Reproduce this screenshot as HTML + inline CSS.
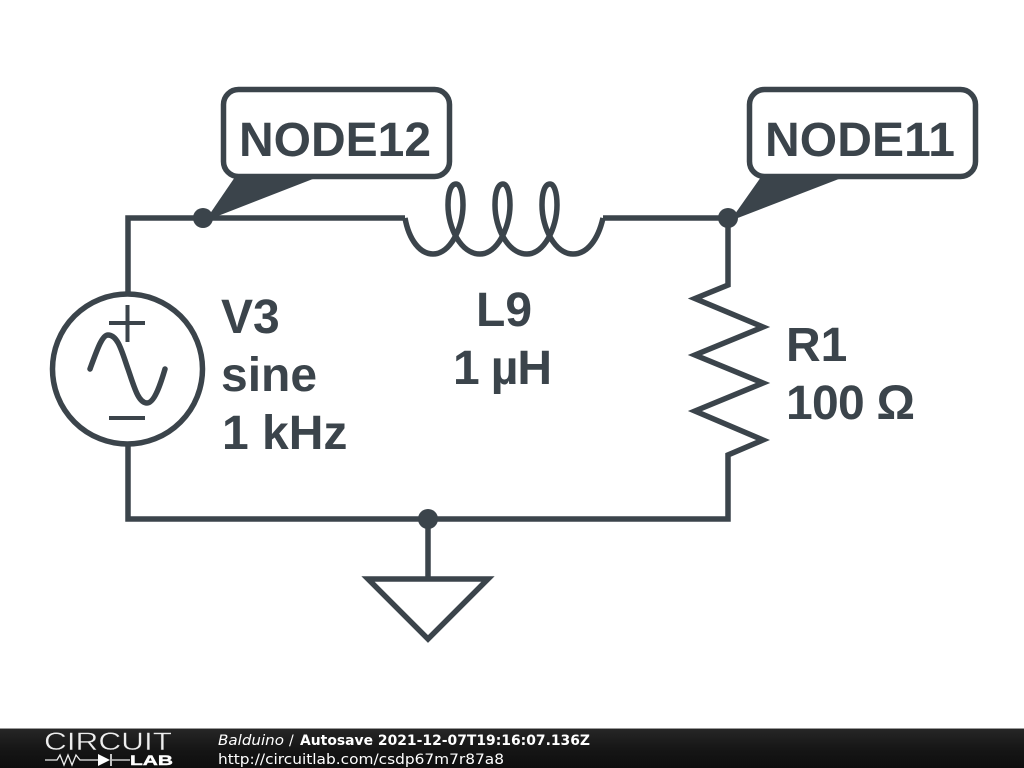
<!DOCTYPE html>
<html><head><meta charset="utf-8"><style>
html,body{margin:0;padding:0;background:#fff;width:1024px;height:768px;overflow:hidden}
svg{display:block}
</style></head><body>
<svg width="1024" height="768" viewBox="0 0 1024 768" xmlns="http://www.w3.org/2000/svg">
<defs><linearGradient id="g" x1="0" y1="0" x2="0" y2="1"><stop offset="0" stop-color="#262626"/><stop offset="0.5" stop-color="#161616"/><stop offset="1" stop-color="#0e0e0e"/></linearGradient></defs>
<rect width="1024" height="768" fill="#fff"/>
<g fill="none" stroke="#3b444b" stroke-width="5.500" stroke-linejoin="miter">
<path d="M128,293V218H405"/>
<path d="M405,218C409,240 420,254 433,254C450,254 463,228 463,205C463,192 460,184 456,184C451,184 448,192 448,205C448,228 461,254 480,254C497,254 510,228 510,205C510,192 507,184 503,184C498,184 495,192 495,205C495,228 508,254 527,254C544,254 557,228 557,205C557,192 554,184 550,184C545,184 542,192 542,205C542,228 555,254 573,254C587,254 598,240 603,218"/>
<path d="M603,218H728V285L695,298.500L763,327L695,355L763,383L695,411L763,440L728,455V519H128V445"/>
<path d="M428,519V579"/>
<path d="M368,579H488L428,639Z"/>
<circle cx="127.500" cy="369" r="75"/>
<g stroke-width="4"><path d="M109,323H145M127.500,305V342M109,418H145"/></g>
<path d="M90,369C97,350 102,335 108,335C118,335 122,352 128,369C134,386 138,403 147,403C154,403 160,386 165,369" stroke-linecap="round"/>
<rect x="223.500" y="89.500" width="226" height="87" rx="15" ry="15"/>
<rect x="749.500" y="89.500" width="226" height="87" rx="15" ry="15"/>
</g>
<g fill="#3b444b">
<polygon points="235,177 318,177 205,221"/>
<polygon points="761,177 844,177 730,221"/>
<circle cx="203" cy="218" r="10"/>
<circle cx="728" cy="218" r="10"/>
<circle cx="428" cy="519" r="10"/>
</g>
<g font-family="'Liberation Sans',sans-serif" font-weight="bold" font-size="48" fill="#3b444b">
<text x="239" y="156">NODE12</text>
<text x="765" y="156" textLength="190">NODE11</text>
<text x="221" y="333">V3</text>
<text x="221" y="391">sine</text>
<text x="222" y="449">1 kHz</text>
<text x="476" y="326">L9</text>
<text x="453" y="384" textLength="99">1 µH</text>
<text x="786" y="361">R1</text>
<text x="786" y="419" textLength="129">100 Ω</text>
</g>
<rect x="0" y="729" width="1024" height="39" fill="url(#g)"/>
<rect x="0" y="728" width="1024" height="1" fill="#999"/>
<text x="44" y="750" font-family="'Liberation Sans',sans-serif" font-size="25" fill="#eee" textLength="128" lengthAdjust="spacingAndGlyphs" stroke="#1a1a1a" stroke-width="0.4">CIRCUIT</text>
<path d="M45,760H57L60,755L64,765L68,755L72,765L76,755L80,760H98M112,760H130" fill="none" stroke="#eee" stroke-width="1.300"/>
<path d="M98,754V766L110,760Z" fill="#fff"/><path d="M111,754V766" stroke="#fff" stroke-width="1.500"/>
<text x="130" y="765" font-family="'Liberation Sans',sans-serif" font-weight="bold" font-size="14" fill="#fff" stroke="#fff" stroke-width="0.4" textLength="43" lengthAdjust="spacingAndGlyphs">LAB</text>
<g font-family="'DejaVu Sans',sans-serif" font-size="14" fill="#fff">
<text x="218" y="745" font-style="italic" textLength="66" lengthAdjust="spacingAndGlyphs">Balduino</text>
<text x="289" y="745">/</text>
<text x="300" y="745" font-weight="bold" textLength="290" lengthAdjust="spacingAndGlyphs">Autosave 2021-12-07T19:16:07.136Z</text>
<text x="218" y="764" textLength="286" lengthAdjust="spacingAndGlyphs">http://circuitlab.com/csdp67m7r87a8</text>
</g>
</svg>
</body></html>
